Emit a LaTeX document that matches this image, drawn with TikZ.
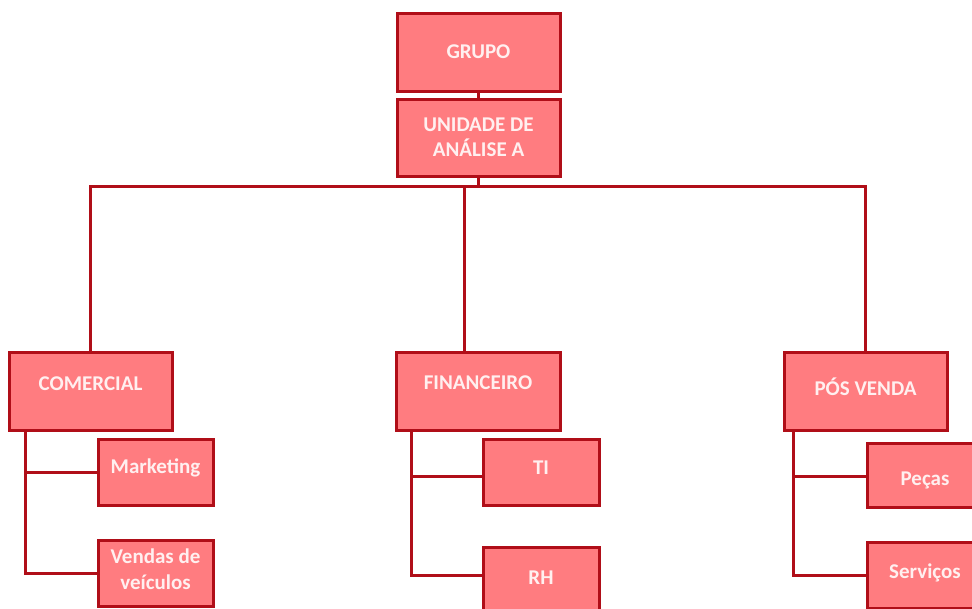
\documentclass[tikz,border=0pt]{standalone}
\usepackage{fontspec}
\setmainfont{Carlito}
\definecolor{boxfill}{RGB}{255,124,128}
\definecolor{boxline}{RGB}{176,14,24}
\definecolor{boxtext}{RGB}{255,240,240}
\newcommand{\chartfont}{\bfseries\fontsize{21}{25.5}\selectfont}
\begin{document}
\begin{tikzpicture}[x=1pt,y=-1pt,
  unitbox/.style={draw=boxline, fill=boxfill, line width=3pt, inner sep=0pt,
    font=\chartfont, text=boxtext, align=center},
  big/.style={unitbox, minimum width=163pt, minimum height=78pt},
  small/.style={unitbox, minimum width=115pt, minimum height=66pt},
  caption/.style={font=\chartfont, text=boxtext, align=center},
  link/.style={draw=boxline, line width=3pt}]
\useasboundingbox (0,0) rectangle (972,608);
\clip (0,0) rectangle (972,608);
\fill[white] (0,0) rectangle (972,608);

% top of the chart
\node[big] (grupo) at (478.5,52) {GRUPO};
\node[big, minimum height=77pt] (unidade) at (478.5,137.5) {UNIDADE DE\\ANÁLISE A};

% departments
\node[big, label={[caption, yshift=7pt]center:COMERCIAL}] (comercial) at (90.5,391) {};
\node[big, minimum width=164pt, label={[caption, yshift=8pt]center:FINANCEIRO}] (financeiro) at (478,391) {};
\node[big, label={[caption, yshift=5pt]center:PÓS VENDA}] (posvenda) at (865.5,391.5) {};

% sub-units
\node[small, label={[caption, yshift=4pt]center:Marketing}] (marketing) at (155.5,472) {};
\node[small, label={[caption, yshift=4pt]center:Vendas de\\veículos}] (vendas) at (155.5,573) {};
\node[small, minimum width=116pt, label={[caption, yshift=4pt]center:TI}] (ti) at (541,472) {};
\node[small, minimum width=116pt, label={[caption, yshift=2pt]center:RH}] (rh) at (541,580) {};
\node[small, minimum width=116pt, minimum height=64pt, label={[caption, yshift=-5pt]center:Peças}] (pecas) at (925,475) {};
\node[small, minimum width=116pt, label={[caption, yshift=2pt]center:Serviços}] (servicos) at (925,575) {};

% main bus
\coordinate (bus) at (478,186);
\draw[link] (grupo.south) -- (unidade.north);
\draw[link] (unidade.south) -- (unidade.south |- bus);
\draw[link] (comercial.north) -- (comercial.north |- bus) -- (posvenda.north |- bus) -- (posvenda.north);
\draw[link] ([xshift=-14pt]financeiro.north) -- ([xshift=-14pt]financeiro.north |- bus);

% department branches
\draw[link] ([xshift=18pt]comercial.south west) |- (vendas.west);
\draw[link] ([xshift=18pt]comercial.south west |- marketing.west) -- (marketing.west);

\draw[link] ([xshift=17pt]financeiro.south west) |- ([yshift=5pt]rh.west);
\draw[link] ([xshift=17pt,yshift=-4pt]financeiro.south west |- ti.west) -- ([yshift=-4pt]ti.west);

\draw[link] ([xshift=11pt]posvenda.south west) |- (servicos.west);
\draw[link] ([xshift=11pt,yshift=-1pt]posvenda.south west |- pecas.west) -- ([yshift=-1pt]pecas.west);
\end{tikzpicture}
\end{document}
